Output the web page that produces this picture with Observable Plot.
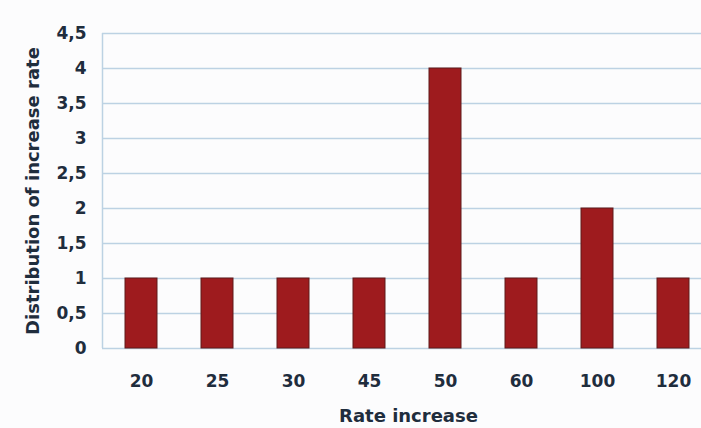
<!DOCTYPE html>
<html>
<head>
<meta charset="utf-8">
<script src="https://cdn.jsdelivr.net/npm/d3@7"></script>
<script src="https://cdn.jsdelivr.net/npm/@observablehq/plot@0.6"></script>
<style>
  html, body { margin: 0; padding: 0; background: #fcfcfd; overflow: hidden; }
  #chart { width: 701px; height: 428px; overflow: hidden; }
</style>
</head>
<body>
<div id="chart"></div>
<script>
const categories = ["20", "25", "30", "45", "50", "60", "100", "120"];
const values = [1, 1, 1, 1, 4, 1, 2, 1];
const yTicks = [0, 0.5, 1, 1.5, 2, 2.5, 3, 3.5, 4, 4.5];
const xTitle = "Rate increase";
const yTitle = "Distribution of increase rate";

const data = categories.map((c, i) => ({cat: c, value: values[i]}));
const grid = "#bcd2e3";
const ink = "#1f2d3d";

const chart = Plot.plot({
  width: 701,
  height: 428,
  marginTop: 33,
  marginBottom: 80,
  marginLeft: 102,
  marginRight: 0,
  style: {fontFamily: "DejaVu Sans", fontSize: "17px", fontWeight: "bold", background: "#fcfcfd", color: ink, overflow: "hidden"},
  x: {domain: categories, range: [103, 711], paddingInner: 0.58, paddingOuter: 0.29, align: 0.5, label: null},
  y: {domain: [0, 4.5], label: null},
  marks: [
    Plot.gridY(yTicks, {stroke: grid, strokeOpacity: 1, strokeWidth: 1.5}),
    Plot.ruleX([categories[0]], {dx: -39, stroke: grid, strokeOpacity: 1, strokeWidth: 1.5}),
    Plot.barY(data, {x: "cat", y: "value", fill: "#9e1b1e", stroke: "#5e1a1a", strokeWidth: 1}),
    Plot.axisY(yTicks, {tickSize: 0, tickPadding: 16, tickFormat: d => String(d).replace(".", ","), label: null, fill: ink, fontWeight: "bold"}),
    Plot.axisX({tickSize: 0, tickPadding: 26, label: null, fill: ink, fontWeight: "bold"}),
    Plot.text([yTitle], {frameAnchor: "left", textAnchor: "middle", rotate: -90, dx: -69, fontWeight: "bold", fontSize: 18, fill: ink}),
    Plot.text([xTitle], {frameAnchor: "bottom", dx: 6.5, dy: 73, fontWeight: "bold", fontSize: 18, fill: ink})
  ]
});
document.getElementById("chart").append(chart);
</script>
</body>
</html>
